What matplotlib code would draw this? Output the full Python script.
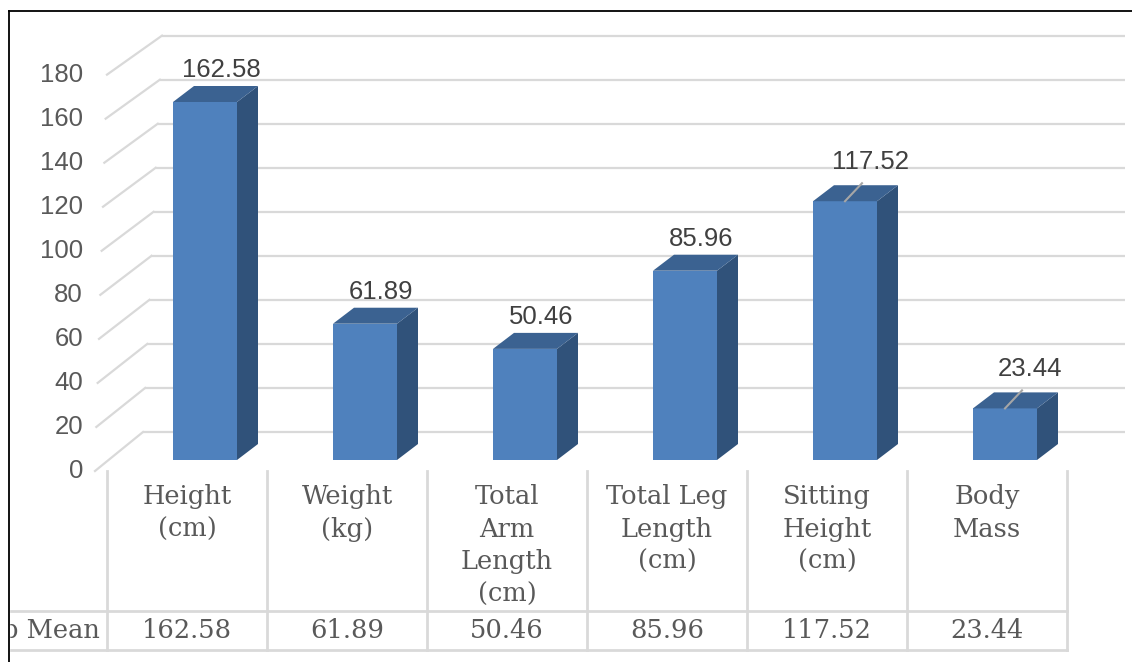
import numpy as np
import matplotlib
matplotlib.use("Agg")
import matplotlib.pyplot as plt
from matplotlib.patches import Polygon, Rectangle
from matplotlib.lines import Line2D

# data
categories = ["Height\n(cm)", "Weight\n(kg)", "Total\nArm\nLength\n(cm)",
              "Total Leg\nLength\n(cm)", "Sitting\nHeight\n(cm)", "Body\nMass"]
means = [162.58, 61.89, 50.46, 85.96, 117.52, 23.44]
value_labels = ["162.58", "61.89", "50.46", "85.96", "117.52", "23.44"]
row_label = "p Mean"
y_ticks = list(range(0, 181, 20))

# layout (pixel based, converted to data units)
W, H = 1132, 662
PX_CAT = 160.0     # px per category
PX_VAL = 2.202     # px per value unit
X0, Y0 = 205, 460  # pixel of category 0 / value 0 (front face)

def ux(px):
    return px / PX_CAT

def uy(px):
    return px / PX_VAL

FRONT = "#4F81BD"
SIDE = "#30527A"
TOP = "#3B6291"
GRID = "#D9D9D9"

bar_w = ux(64)
dx, dy = ux(21), uy(16)
back_off = uy(28)      # back wall relative to bar front
floor_off = -uy(11)    # front edge of floor / left wall
wall_right = ux(1125 - X0)
vmax = 180

def back_left(v):
    return ux(143 - X0) + (ux(162 - X0) - ux(143 - X0)) * v / vmax

def front_left(v):
    return ux(95 - X0) + (ux(107 - X0) - ux(95 - X0)) * v / vmax

fig = plt.figure(figsize=(W / 100, H / 100), dpi=100)
ax = fig.add_axes([0, 0, 1, 1])
ax.set_xlim(-ux(X0), ux(W - X0))
ax.set_ylim(-uy(H - Y0), uy(Y0))
ax.axis("off")

# walls: gridlines on back wall + diagonals on left wall
for v in y_ticks:
    ax.plot([back_left(v), wall_right], [back_off + v, back_off + v],
            color=GRID, lw=1.6, zorder=1, solid_capstyle="butt")
    ax.plot([front_left(v), back_left(v)], [floor_off + v, back_off + v],
            color=GRID, lw=1.6, zorder=1)
    ax.text(ux(83 - X0), floor_off + v, str(v), ha="right", va="center",
            fontsize=18.5, color="#595959", family="Liberation Sans")

# 3d bars
xs = np.arange(len(means))
ax.bar(xs, means, width=bar_w, color=FRONT, zorder=3)
for x, v, lab in zip(xs, means, value_labels):
    l, r = x - bar_w / 2, x + bar_w / 2
    ax.add_patch(Polygon([[r, 0], [r + dx, dy], [r + dx, v + dy], [r, v]],
                         closed=True, color=SIDE, zorder=3, lw=0))
    ax.add_patch(Polygon([[l, v], [l + dx, v + dy], [r + dx, v + dy], [r, v]],
                         closed=True, color=TOP, zorder=3, lw=0))
    ly = v + 2 * dy
    lx = x + ux(16)
    if v > 100 and x > 0 or v < 30:
        # labels pushed up with a leader line
        ly += uy(7)
        lx += ux(9)
        ax.plot([x, x + ux(17)], [v, v + uy(18)], color="#A6A6A6", lw=1.5, zorder=4)
    ax.text(lx, ly, lab, ha="center", va="center", fontsize=18.5,
            color="#404040", family="Liberation Sans", zorder=5)

# data table
edges = np.arange(len(means) + 1) - ux(X0 - 107)
t_top, t_mid, t_bot = floor_off, -uy(611 - Y0), -uy(650 - Y0)
for e in edges:
    ax.plot([e, e], [t_top, t_bot], color=GRID, lw=2, zorder=1)
for yy in (t_mid, t_bot):
    ax.plot([ax.get_xlim()[0], edges[-1]], [yy, yy], color=GRID, lw=2, zorder=1)

serif = "DejaVu Serif"
for i, (cat, lab) in enumerate(zip(categories, value_labels)):
    cx = (edges[i] + edges[i + 1]) / 2
    ax.text(cx, -uy(484 - Y0), cat, ha="center", va="top", fontsize=18.5,
            color="#595959", family=serif, linespacing=1.38)
    ax.text(cx, (t_mid + t_bot) / 2, lab, ha="center", va="center",
            fontsize=18.5, color="#595959", family=serif)
ax.text(edges[0] - ux(7), (t_mid + t_bot) / 2, row_label, ha="right",
        va="center", fontsize=18.5, color="#595959", family=serif)

# outer frame (clipped chart area)
fig.add_artist(Rectangle((0, 0), 9 / W, 1, transform=fig.transFigure,
                         color="white", zorder=10))
fig.add_artist(Rectangle((0, 1 - 11 / H), 1, 11 / H, transform=fig.transFigure,
                         color="white", zorder=10))
fig.add_artist(Line2D([9 / W, 9 / W], [0, 1 - 11 / H], color="black", lw=1.3,
                      transform=fig.transFigure, zorder=11))
fig.add_artist(Line2D([9 / W, 1], [1 - 11 / H, 1 - 11 / H], color="black", lw=1.3,
                      transform=fig.transFigure, zorder=11))

fig.savefig("out.png", dpi=100, facecolor="white")
